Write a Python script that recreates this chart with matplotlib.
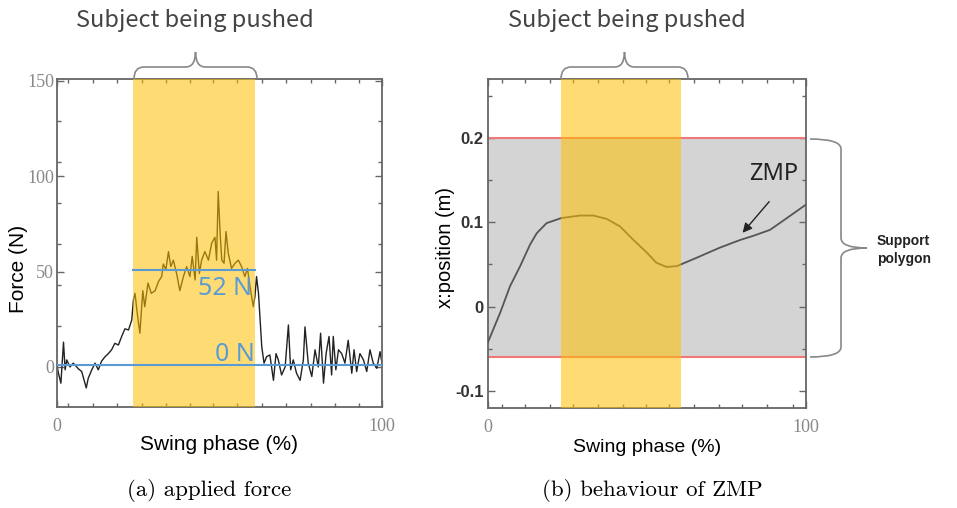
import numpy as np
import matplotlib
matplotlib.use("Agg")
import matplotlib.pyplot as plt
from matplotlib.path import Path
from matplotlib.patches import PathPatch

# applied force (N) vs swing phase (%)
force_x = [0, 0.4, 1.2, 2, 2.5, 3, 4, 5, 6.6, 7.6, 9, 9.6, 10.7, 11.7, 12.7, 13.7, 14.8, 15.8,
           16.8, 17.8, 18.9, 19.9, 20.9, 22, 23, 23.5, 24, 24.7, 25.5, 26.4, 27, 28, 29, 30.2,
           31.2, 32.2, 32.7, 33.5, 34.3, 35, 35.8, 36.8, 37.8, 38.9, 39.9, 40.9, 41.6, 42.5, 43,
           43.8, 44.5, 45.5, 46.6, 47.6, 48.6, 49.1, 49.6, 50.2, 50.7, 51.4, 52, 52.7, 53.7, 54.8,
           55.8, 56.8, 57.8, 58.6, 59.4, 60.4, 60.9, 61.4, 62, 62.5, 63, 63.7, 64.5, 65.5, 66.6,
           67.4, 68.1, 69.1, 70.2, 71.2, 71.9, 72.7, 73.7, 74.8, 75.8, 76.3, 77.3, 78.4, 79.4,
           80.4, 81.1, 82, 82.8, 83.7, 84.5, 85, 85.8, 86.6, 87.6, 88.6, 89.6, 90.7, 91.4, 92.2,
           93.2, 94.3, 95.3, 96.3, 97.3, 98.4, 99.4, 100]
force_y = [1, -3, -8.5, 13, -1.5, 3.7, 0, 2, -1, -2.4, -11, -6, -1.5, 2, -1.5, 3, 5.4, 7,
           9, 12.4, 11.5, 16, 20, 19.4, 24.6, 35, 38.6, 28, 17.7, 40, 31.6, 44, 38.6, 40,
           44.7, 47.4, 54, 51, 60.5, 52.6, 56, 49, 40, 47.4, 52.6, 47.4, 58, 45.6, 68,
           49, 56, 60.5, 56, 65, 68, 56, 92, 70, 56, 54.4, 71, 59.6, 51.7, 54.4,
           56, 52.6, 47.4, 51.7, 42, 31.6, 37, 47.4, 38.6, 24.6, 10.7, 2, 5.4, 6.3, -7,
           7, 3.7, -4.2, 0, 22, -1.5, 3.7, -3.3, -7, 3.7, 21, 2, -5, 9,
           0, 17.7, -8.5, 7, 16, -4.2, 16, -1.5, 9, 7, 2, 14, -3.3, 9, -2.4,
           7, 3.7, -2.4, 9, 2, -0.7, 8, 2]

# ZMP x position (m) vs swing phase (%)
zmp_x = [0, 3.9, 7, 10.2, 13.3, 15.4, 18.5, 23.1, 29, 33.2, 37.4, 41.6, 45.8, 50, 53, 56.2,
         59.4, 60.7, 65.7, 73, 79.3, 83.5, 88.7, 94, 100]
zmp_y = [-0.043, -0.0075, 0.024, 0.048, 0.0735, 0.087, 0.099, 0.105, 0.108, 0.108, 0.104,
         0.095, 0.079, 0.064, 0.052, 0.047, 0.048, 0.05, 0.058, 0.070, 0.079, 0.084, 0.091,
         0.105, 0.121]

push_start, push_end = 23.5, 61
mean_force = 51
support_min, support_max = -0.06, 0.2

W, H = 957, 508
fig = plt.figure(figsize=(W / 100, H / 100), dpi=100)

yellow = '#FFC000'
blue = '#5B9BD5'
spine_c = '#666666'

def style_axes(ax, xminor, yminor):
    for s in ax.spines.values():
        s.set_color(spine_c)
        s.set_linewidth(1.3)
    ax.set_xticks([0, 100])
    ax.set_xticks(xminor, minor=True)
    ax.set_yticks(yminor, minor=True)
    ax.tick_params(which='both', direction='in', top=True, right=True, color=spine_c)
    ax.tick_params(which='major', length=5, width=1)
    ax.tick_params(which='minor', length=3, width=1)
    ax.tick_params(axis='x', pad=8, labelsize=13, labelcolor='#888888')
    for lab in ax.get_xticklabels():
        lab.set_family('Liberation Serif')

# ---- (a) applied force
ax1 = fig.add_axes([57 / W, 1 - 407 / H, 325 / W, 328 / H])
ax1.plot(force_x, force_y, color='#222222', lw=1.0, zorder=2)
ax1.axvspan(push_start, push_end, color=yellow, alpha=0.55, lw=0, zorder=3)
ax1.axhline(0.8, color=blue, lw=1.5, zorder=4)
ax1.plot([push_start, push_end], [mean_force, mean_force], color=blue, lw=1.5, zorder=4)
ax1.text(60, 41, '52 N', color=blue, fontsize=18, ha='right', va='center',
         family='Noto Sans', zorder=5)
ax1.text(60.7, 6.5, '0 N', color=blue, fontsize=18, ha='right', va='center',
         family='Noto Sans', zorder=5)
ax1.set_xlim(0, 100)
ax1.set_ylim(-21, 151)
ax1.set_yticks([0, 50, 100, 150])
style_axes(ax1, [3.5, 11, 18.5, 26, 33.5, 41, 48, 55.5, 63, 70.5, 78, 85.5, 93],
           [21.5, 43, 64.5, 86, 107.5, 129])
ax1.tick_params(axis='y', labelsize=13, labelcolor='#888888', pad=2)
for lab in ax1.get_yticklabels():
    lab.set_family('Liberation Serif')
ax1.set_xlabel('Swing phase (%)', fontsize=15, family='Liberation Sans', labelpad=0)
ax1.set_ylabel('Force (N)', fontsize=15, family='Liberation Sans')
ax1.yaxis.set_label_coords(-0.09, 0.42)

# ---- (b) behaviour of ZMP
ax2 = fig.add_axes([487.7 / W, 1 - 407.7 / H, 318.3 / W, 328.7 / H])
ax2.axhspan(support_min, support_max, color='#D4D4D4', lw=0, zorder=1)
ax2.axhline(support_max, color='#F07878', lw=1.5, zorder=2)
ax2.axhline(support_min, color='#F07878', lw=1.5, zorder=2)
ax2.plot(zmp_x, zmp_y, color='#555555', lw=1.3, zorder=3)
ax2.axvspan(push_start - 0.5, push_end - 0.3, color=yellow, alpha=0.55, lw=0, zorder=4)
ax2.annotate('', xy=(79.5, 0.085), xytext=(89, 0.127),
             arrowprops=dict(arrowstyle='-|>', color='#222222', lw=1.0, mutation_scale=14),
             zorder=5)
ax2.text(90, 0.157, 'ZMP', fontsize=17, ha='center', va='center', color='#222222',
         family='Noto Sans', zorder=5)
ax2.set_xlim(0, 100)
ax2.set_ylim(-0.12, 0.27)
ax2.set_yticks([-0.1, 0, 0.1, 0.2])
ax2.set_yticklabels(['-0.1', '0', '0.1', '0.2'])
style_axes(ax2, [4.4, 11.7, 19.6, 26.8, 34.7, 42.5, 49.7, 57, 64.9, 72.8, 80, 87.9, 95.8],
           [-0.05, 0.05, 0.15, 0.25])
ax2.tick_params(axis='y', labelsize=12, labelcolor='#333333', pad=3)
for lab in ax2.get_yticklabels():
    lab.set_family('Liberation Sans')
    lab.set_fontweight('bold')
ax2.set_xlabel('Swing phase (%)', fontsize=14, family='Liberation Sans', labelpad=2)
ax2.set_ylabel('x:position (m)', fontsize=14.5, family='Liberation Sans')
ax2.yaxis.set_label_coords(-0.103, 0.486)

# ---- braces (figure pixel coords, y from top)
def px(x, y):
    return (x / W, 1 - y / H)

def hbrace(x0, x1, ybase, ybar, ytip):
    xm = (x0 + x1) / 2
    r = 10
    verts = [px(x0, ybase), px(x0, ybar), px(x0 + r, ybar),
             px(xm - r, ybar), px(xm, ybar), px(xm, ytip),
             px(xm, ybar), px(xm + r, ybar),
             px(x1 - r, ybar), px(x1, ybar), px(x1, ybase)]
    codes = [Path.MOVETO, Path.CURVE3, Path.CURVE3,
             Path.LINETO, Path.CURVE3, Path.CURVE3,
             Path.CURVE3, Path.CURVE3,
             Path.LINETO, Path.CURVE3, Path.CURVE3]
    fig.patches.append(PathPatch(Path(verts, codes), fill=False, ec='#888888', lw=1.2,
                                 transform=fig.transFigure))

def vbrace(y0, y1, xbase, xbar, xtip):
    ym = (y0 + y1) / 2
    r = 10
    verts = [px(xbase, y0), px(xbar, y0), px(xbar, y0 + r),
             px(xbar, ym - r), px(xbar, ym), px(xtip, ym),
             px(xbar, ym), px(xbar, ym + r),
             px(xbar, y1 - r), px(xbar, y1), px(xbase, y1)]
    codes = [Path.MOVETO, Path.CURVE3, Path.CURVE3,
             Path.LINETO, Path.CURVE3, Path.CURVE3,
             Path.CURVE3, Path.CURVE3,
             Path.LINETO, Path.CURVE3, Path.CURVE3]
    fig.patches.append(PathPatch(Path(verts, codes), fill=False, ec='#888888', lw=1.2,
                                 transform=fig.transFigure))

hbrace(134, 257, 79, 67, 52)
hbrace(561, 688, 79, 67, 52)
vbrace(139, 357, 810, 841, 867)

fig.text(*px(195, 20), 'Subject being pushed', fontsize=17, color='#444444',
         ha='center', va='center', family='Noto Sans CJK JP')
fig.text(*px(627, 20), 'Subject being pushed', fontsize=17, color='#444444',
         ha='center', va='center', family='Noto Sans CJK JP')
fig.text(*px(877, 250), 'Support\npolygon', fontsize=10, fontweight='bold', color='#222222',
         ha='left', va='center', family='Liberation Sans', linespacing=1.3)

fig.text(*px(209, 491), '(a) applied force', fontsize=16.5, ha='center', va='center',
         family='cmr10')
fig.text(*px(652, 491), '(b) behaviour of ZMP', fontsize=16.5, ha='center', va='center',
         family='cmr10')

fig.savefig('out.png', dpi=100)
